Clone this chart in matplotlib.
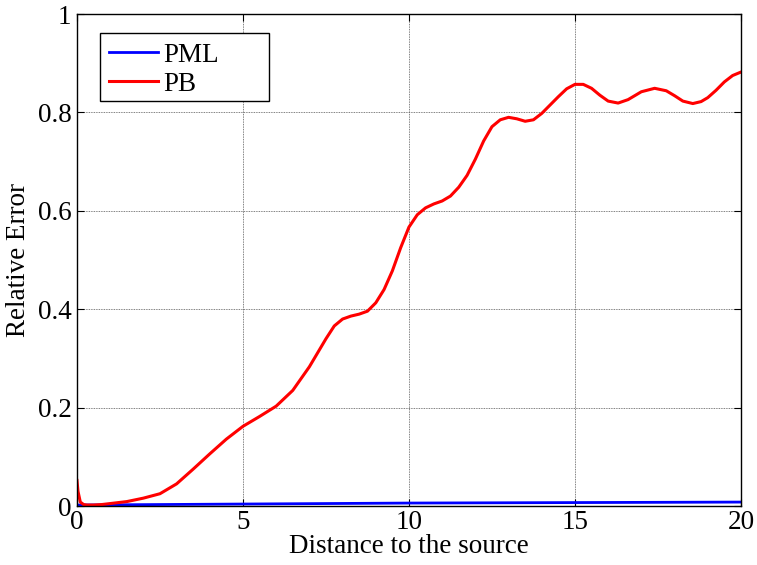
import matplotlib
matplotlib.use("Agg")
import matplotlib.pyplot as plt
from matplotlib.patches import Rectangle

# Data
pb_x = [0, 0.03, 0.1, 0.2, 0.3, 0.5, 0.75, 1, 1.5, 2, 2.5, 3, 3.5, 4, 4.5, 5,
        5.5, 6, 6.5, 7, 7.5, 7.75, 8, 8.25, 8.5, 8.75, 9, 9.25, 9.5, 9.75, 10,
        10.25, 10.5, 10.75, 11, 11.25, 11.5, 11.75, 12, 12.25, 12.5, 12.75,
        13, 13.25, 13.5, 13.75, 14, 14.25, 14.5, 14.75, 15, 15.25, 15.5,
        15.75, 16, 16.3, 16.6, 17, 17.4, 17.75, 18, 18.25, 18.55, 18.8, 19,
        19.25, 19.5, 19.75, 20]
pb_y = [0.052, 0.03, 0.008, 0.003, 0.002, 0.002, 0.003, 0.005, 0.009, 0.016,
        0.025, 0.045, 0.075, 0.106, 0.136, 0.162, 0.182, 0.203, 0.235, 0.283,
        0.340, 0.366, 0.380, 0.386, 0.390, 0.396, 0.413, 0.44, 0.478, 0.525,
        0.567, 0.592, 0.606, 0.614, 0.620, 0.630, 0.648, 0.672, 0.705, 0.742,
        0.771, 0.785, 0.79, 0.787, 0.782, 0.785, 0.798, 0.815, 0.832, 0.848,
        0.857, 0.857, 0.849, 0.835, 0.823, 0.819, 0.826, 0.842, 0.849, 0.844,
        0.834, 0.823, 0.818, 0.822, 0.83, 0.845, 0.862, 0.875, 0.882]

pml_x = [0, 2.5, 5, 7.5, 10, 12.5, 15, 17.5, 20]
pml_y = [0.002, 0.003, 0.004, 0.005, 0.006, 0.0065, 0.007, 0.0075, 0.008]

x_ticks = [0, 5, 10, 15, 20]
y_ticks = [0, 0.2, 0.4, 0.6, 0.8, 1]
y_tick_labels = ["0", "0.2", "0.4", "0.6", "0.8", "1"]

plt.rcParams['font.family'] = ['Liberation Serif', 'DejaVu Serif']

fig = plt.figure(figsize=(7.57, 5.65), dpi=100)
ax = fig.add_axes([0.1017, 0.1044, 0.8771, 0.8708])

ax.plot(pml_x, pml_y, color='#0000ff', lw=2.0, label='PML')
ax.plot(pb_x, pb_y, color='#ff0000', lw=2.2, label='PB')

ax.set_xlim(0, 20)
ax.set_ylim(0, 1)
ax.set_xticks(x_ticks)
ax.set_xticklabels([str(t) for t in x_ticks])
ax.set_yticks(y_ticks)
ax.set_yticklabels(y_tick_labels)

ax.grid(True, color='#555555', linestyle=(0, (1, 1)), linewidth=0.6)
ax.tick_params(direction='in', length=5, width=0.8, labelsize=19.5,
               top=True, right=True)
ax.tick_params(axis='x', pad=3)
ax.tick_params(axis='y', pad=4)
for s in ax.spines.values():
    s.set_linewidth(1.0)
    s.set_color('black')

ax.set_xlabel('Distance to the source', fontsize=19.5, labelpad=-1)
ax.set_ylabel('Relative Error', fontsize=19.5, labelpad=5)

# Legend frame drawn separately (MATLAB-style wide box)
frame = Rectangle((0.0346, 0.823), 0.2546, 0.138, transform=ax.transAxes,
                  facecolor='white', edgecolor='black', linewidth=1.0,
                  zorder=4)
ax.add_patch(frame)
leg = ax.legend(loc='upper left', bbox_to_anchor=(0.036, 0.958),
                borderaxespad=0, fontsize=19.5, frameon=False,
                handlelength=1.8, handletextpad=0.2, labelspacing=0.15,
                borderpad=0.3)
leg.set_zorder(5)

fig.savefig('out.png', dpi=100)
